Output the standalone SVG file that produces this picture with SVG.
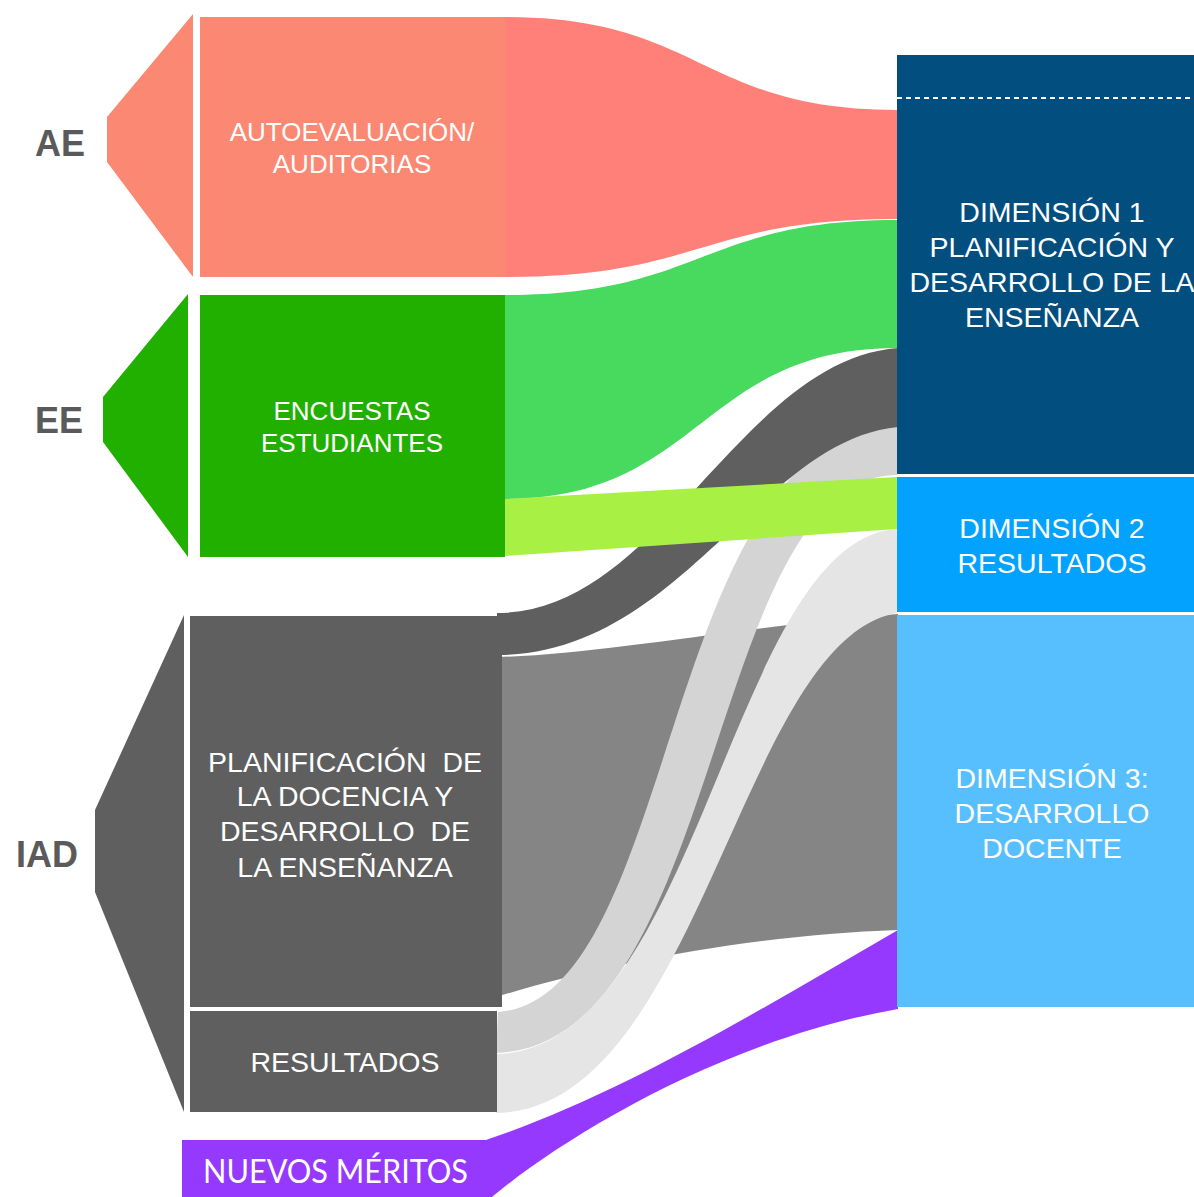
<svg xmlns="http://www.w3.org/2000/svg" width="1194" height="1197" viewBox="0 0 1194 1197">
<style>
.lbl{font-family:"Liberation Sans",Arial,sans-serif;font-weight:bold;font-size:36px;fill:#5A5A5A}
.nt{font-family:"Liberation Sans",Arial,sans-serif;fill:#FFFFFF;text-anchor:middle}
.s26{font-size:26px}
.s28{font-size:28.5px}
</style>
<rect width="1194" height="1197" fill="#FFFFFF"/>
<g id="connectors">
  <path id="ae-d1" fill="#FF7F79" d="M505,17 C701,17 701,110 897,110 L897,219 C701,219 701,277 505,277 Z"/>
  <path id="ee-d1" fill="#48D95F" d="M505,295 C701,295 701,220 897,220 L897,348 C701,348 701,499 505,499 Z"/>
  <path id="plan-d3" fill="#858585" d="M496,657 C600,655 750,625 898,614 L898,930 C750,935 600,965 496,997 Z"/>
  <path id="res-d1" fill="#D4D4D4" d="M498,1012 C680,1000 660,430 897,427 L897,475 C705,478 725,1045 496,1053 Z"/>
  <path id="res-d2" fill="#E5E5E5" d="M496,1054 C700,1050 730,540 897,529 L897,613 C740,640 700,1110 496,1113 Z"/>
  <path id="plan-d1" fill="#5F5F5F" d="M497,613 C660,613 740,360 898,348 L898,427 C760,440 680,655 497,655 Z"/>
  <path id="ee-d2" fill="#A8F044" d="M505,499 L897,477 L897,529 L505,556 Z"/>
  <path id="nm-d3" fill="#9639FE" d="M486,1140 C620,1095 760,1010 898,930 L898,1009 C720,1040 560,1140 492,1197 L486,1197 Z"/>
</g>
<g id="node-ae">
  <polygon points="193,14 107,117 107,162 193,277" fill="#FA8872"/>
  <rect x="200" y="17" width="306" height="260" fill="#FA8872"/>
  <text class="lbl" x="35" y="156">AE</text>
  <text class="nt s26" x="352" y="141">AUTOEVALUACIÓN/</text>
  <text class="nt s26" x="352" y="173">AUDITORIAS</text>
</g>
<g id="node-ee">
  <polygon points="188,294 103,397 103,442 188,557" fill="#21B000"/>
  <rect x="200" y="295" width="305" height="262" fill="#21B000"/>
  <text class="lbl" x="35" y="433">EE</text>
  <text class="nt s26" x="352" y="420">ENCUESTAS</text>
  <text class="nt s26" x="352" y="452">ESTUDIANTES</text>
</g>
<g id="node-iad">
  <polygon points="184,615 95,810 95,892 184,1112" fill="#5F5F5F"/>
  <text class="lbl" x="16" y="867">IAD</text>
</g>
<g id="node-plan">
  <rect x="190" y="616" width="312" height="391" fill="#5F5F5F"/>
  <text class="nt s28" x="345" y="772" xml:space="preserve">PLANIFICACIÓN  DE</text>
  <text class="nt s28" x="345" y="806">LA DOCENCIA Y</text>
  <text class="nt s28" x="345" y="841" xml:space="preserve">DESARROLLO  DE</text>
  <text class="nt s28" x="345" y="877">LA ENSEÑANZA</text>
</g>
<g id="node-resultados">
  <rect x="190" y="1011" width="307" height="101" fill="#5F5F5F"/>
  <text class="nt s28" x="345" y="1072">RESULTADOS</text>
</g>
<g id="node-nuevos">
  <rect x="182" y="1140" width="306" height="57" fill="#9639FE"/>
  <text x="203" y="1183" textLength="265" lengthAdjust="spacingAndGlyphs" style="font-family:Lato,'Open Sans',sans-serif;font-size:32px;fill:#FFFFFF">NUEVOS MÉRITOS</text>
</g>
<g id="node-d1">
  <rect x="897" y="55" width="297" height="419" fill="#024E7E"/>
  <line x1="897" y1="98" x2="1194" y2="98" stroke="#FFFFFF" stroke-width="2" stroke-dasharray="5,4"/>
  <text class="nt s28" x="1052" y="222">DIMENSIÓN 1</text>
  <text class="nt s28" x="1052" y="257">PLANIFICACIÓN Y</text>
  <text class="nt s28" x="1052" y="292">DESARROLLO DE LA</text>
  <text class="nt s28" x="1052" y="327">ENSEÑANZA</text>
</g>
<g id="node-d2">
  <rect x="897" y="477" width="297" height="135" fill="#02A2FE"/>
  <text class="nt s28" x="1052" y="538">DIMENSIÓN 2</text>
  <text class="nt s28" x="1052" y="573">RESULTADOS</text>
</g>
<g id="node-d3">
  <rect x="897" y="615" width="297" height="392" fill="#58BFFE"/>
  <text class="nt s28" x="1052" y="788">DIMENSIÓN 3:</text>
  <text class="nt s28" x="1052" y="823">DESARROLLO</text>
  <text class="nt s28" x="1052" y="858">DOCENTE</text>
</g>
</svg>
